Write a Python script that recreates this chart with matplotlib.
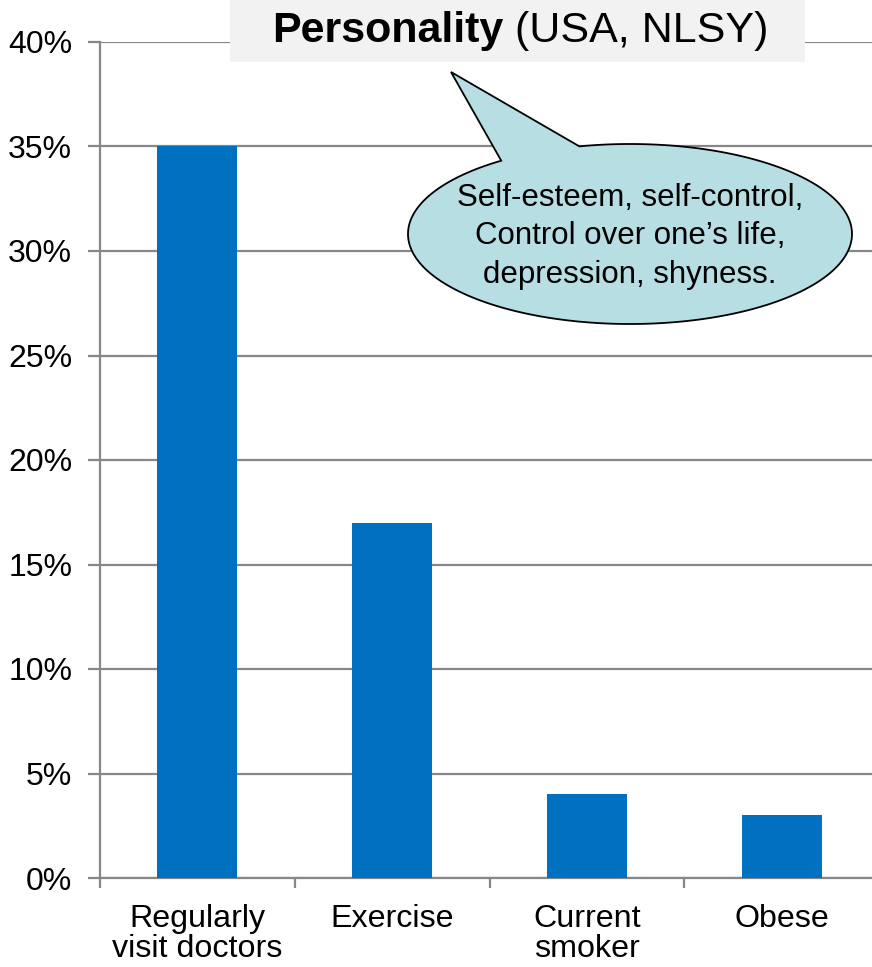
import numpy as np
import matplotlib
matplotlib.use("Agg")
import matplotlib.pyplot as plt
import matplotlib.transforms as mtransforms
from matplotlib.patches import Polygon, Rectangle
from matplotlib.ticker import FuncFormatter, FixedLocator

plt.rcParams['font.family'] = ['Liberation Sans', 'DejaVu Sans']

categories = ["Regularly\nvisit doctors", "Exercise", "Current\nsmoker", "Obese"]
values = [35, 17, 4, 3]
yticks = [0, 5, 10, 15, 20, 25, 30, 35, 40]

title_bold = "Personality"
title_rest = " (USA, NLSY)"
bubble_lines = ["Self-esteem, self-control,", "Control over one\u2019s life,", "depression, shyness."]

W, H = 872, 967
fig = plt.figure(figsize=(W / 100, H / 100), dpi=100)

# main axes in pixel terms
left, right, top, bottom = 100, 879, 42, 878
ax = fig.add_axes([left / W, (H - bottom) / H, (right - left) / W, (bottom - top) / H])

grey = "#878787"
x = np.arange(len(categories))
ax.bar(x, values, width=0.41, color="#0070C0", zorder=3)
ax.set_xlim(-0.5, len(categories) - 0.5)
ax.set_ylim(0, 40)
ax.set_yticks(yticks)
ax.yaxis.set_major_formatter(FuncFormatter(lambda v, p: f"{v:.0f}%"))
ax.yaxis.grid(True, color=grey, linewidth=1.6, zorder=0)
ax.set_axisbelow(True)

ax.xaxis.set_major_locator(FixedLocator(np.arange(-0.5, len(categories), 1.0)))
ax.set_xticklabels([])
ax.xaxis.set_minor_locator(FixedLocator(x))
ax.set_xticklabels(categories, minor=True, fontsize=23.2, linespacing=1.0)
ax.tick_params(axis='x', which='major', length=7, width=1.6, color=grey, direction='out')
ax.tick_params(axis='x', which='minor', length=0, pad=19)
ax.tick_params(axis='y', length=9, width=1.6, color=grey, direction='out', pad=11, labelsize=23)

for s in ['top', 'right']:
    ax.spines[s].set_visible(False)
for s in ['left', 'bottom']:
    ax.spines[s].set_color(grey)
    ax.spines[s].set_linewidth(1.6)

# overlay in figure pixel coordinates for title box and callout
ov = fig.add_axes([0, 0, 1, 1])
ov.set_xlim(0, W)
ov.set_ylim(H, 0)
ov.axis('off')
ov.patch.set_alpha(0)

ov.add_patch(Rectangle((230, 0), 575, 62, facecolor="#F2F2F2", edgecolor='none', zorder=1))
t1 = ov.text(272, 31, title_bold, fontsize=31, fontweight='bold', ha='left', va='center', zorder=2)
fig.canvas.draw()
x_end = t1.get_window_extent().x1
ov.text(x_end, 31, title_rest, fontsize=31, ha='left', va='center', zorder=2,
        transform=mtransforms.blended_transform_factory(mtransforms.IdentityTransform(), ov.transData))

# speech bubble: ellipse with a pointer
cx, cy, a, b = 630, 234, 222, 90
tip = (451, 72)
p_left = (500, 160)
p_right = (578, 144)

def ang(p):
    return np.arctan2((p[1] - cy) / b, (p[0] - cx) / a)

a1 = ang(p_right)
a2 = ang(p_left)
# go the long way round from the right base to the left base
if a2 < a1:
    a2 += 2 * np.pi
ts = np.linspace(a1, a2, 500)
pts = [(cx + a * np.cos(t), cy + b * np.sin(t)) for t in ts]
pts.append(tip)
ov.add_patch(Polygon(pts, closed=True, facecolor="#B7DEE3", edgecolor='black', linewidth=1.3, zorder=3))

for i, line in enumerate(bubble_lines):
    ov.text(630, 198 + i * 38.5, line, fontsize=22.5, ha='center', va='center', zorder=4)

fig.savefig("out.png", dpi=100)
